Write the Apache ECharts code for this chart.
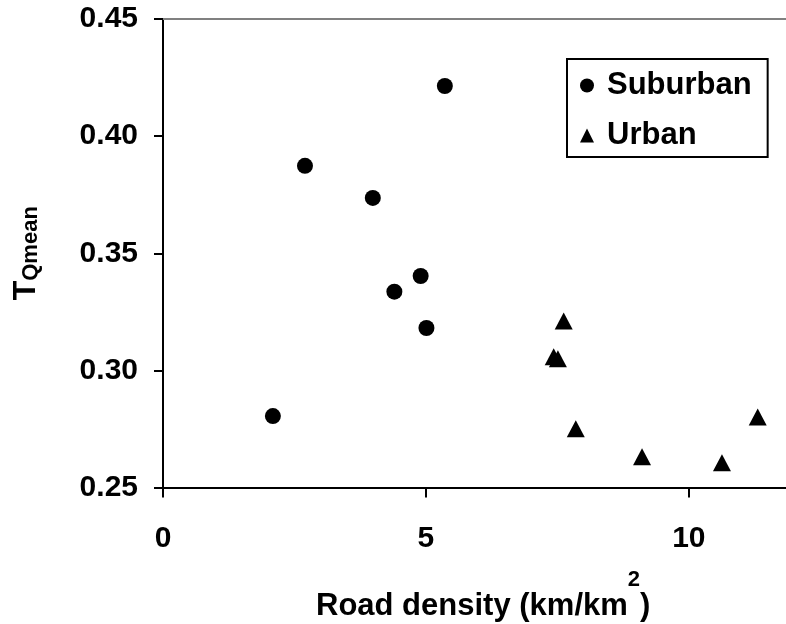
<!DOCTYPE html>
<html>
<head>
<meta charset="utf-8">
<script src="https://cdn.jsdelivr.net/npm/echarts@6/dist/echarts.min.js"></script>
<style>
html,body{margin:0;padding:0;background:#fff;}
#chart{width:786px;height:624px;}
</style>
</head>
<body>
<div id="chart"></div>
<script>
// Data
const suburbanX = [2.09, 2.70, 3.99, 4.40, 4.90, 5.01, 5.36];
const suburbanY = [0.2805, 0.3873, 0.3736, 0.3336, 0.3403, 0.3181, 0.4214];
const urbanX = [7.43, 7.51, 7.62, 7.85, 9.11, 10.63, 11.31];
const urbanY = [0.3058, 0.3050, 0.3211, 0.2751, 0.2631, 0.2606, 0.2801];
const seriesNames = ['Suburban', 'Urban'];
const xTitle = 'Road density (km/km';
const xTitleSup = '2';
const xTitleEnd = ')';
const yTitleMain = 'T';
const yTitleSub = 'Qmean';

const FONT = '"Liberation Sans", Arial, sans-serif';
const mainFont = 'bold 31px ' + FONT;
const supFont = 'bold 22px ' + FONT;

// measure text widths so the superscript sits right after the main text
const ctx = document.createElement('canvas').getContext('2d');
function tw(text, font) { ctx.font = font; return ctx.measureText(text).width; }
const titleLeft = 316;
const w1 = tw(xTitle, mainFont);
const w2 = tw(xTitleSup, supFont);

const pairs = (xs, ys) => xs.map((x, i) => [x, ys[i]]);

const chart = echarts.init(document.getElementById('chart'), null, {renderer: 'canvas'});
chart.setOption({
  backgroundColor: '#fff',
  animation: false,
  textStyle: {fontFamily: FONT},
  grid: {left: 163, right: -8, top: 19, bottom: 136.5, containLabel: false, outerBoundsMode: 'none'},
  legend: {
    left: 567, top: 59, orient: 'vertical',
    data: [{name: seriesNames[0], icon: 'circle'}, {name: seriesNames[1], icon: 'triangle'}],
    itemWidth: 14, itemHeight: 14, itemGap: 19,
    borderColor: '#000', borderWidth: 2, borderRadius: 0,
    padding: [11, 16, 6, 13],
    textStyle: {fontFamily: FONT, fontWeight: 'bold', fontSize: 31, color: '#000', padding: [0, 0, 0, 8]}
  },
  graphic: [
    {type: 'text', x: titleLeft, y: 606, silent: true,
      style: {text: xTitle, font: mainFont, fill: '#000', textAlign: 'left', textVerticalAlign: 'middle'}},
    {type: 'text', x: titleLeft + w1, y: 580, silent: true,
      style: {text: xTitleSup, font: supFont, fill: '#000', textAlign: 'left', textVerticalAlign: 'middle'}},
    {type: 'text', x: titleLeft + w1 + w2, y: 606, silent: true,
      style: {text: xTitleEnd, font: mainFont, fill: '#000', textAlign: 'left', textVerticalAlign: 'middle'}}
  ],
  xAxis: [{
    type: 'value', min: 0, max: 12, interval: 5,
    axisLine: {show: true, onZero: false, lineStyle: {color: '#000', width: 2}},
    axisTick: {show: true, inside: false, length: 10, lineStyle: {color: '#000', width: 2}},
    axisLabel: {margin: 36, fontFamily: FONT, fontWeight: 'bold', fontSize: 30, color: '#000', showMaxLabel: false},
    splitLine: {show: false}
  }, {
    type: 'value', position: 'top', min: 0, max: 12, interval: 5,
    axisLine: {show: true, onZero: false, lineStyle: {color: '#808080', width: 2}},
    axisTick: {show: false}, axisLabel: {show: false}, splitLine: {show: false}
  }],
  yAxis: {
    type: 'value', min: 0.25, max: 0.45, interval: 0.05,
    axisLine: {show: true, onZero: false, lineStyle: {color: '#000', width: 2}},
    axisTick: {show: true, inside: false, length: 9, lineStyle: {color: '#000', width: 2}},
    axisLabel: {margin: 25, fontFamily: FONT, fontWeight: 'bold', fontSize: 30, color: '#000',
      formatter: v => v.toFixed(2)},
    splitLine: {show: false},
    name: '{t|' + yTitleMain + '}{q|' + yTitleSub + '}',
    nameLocation: 'middle', nameGap: 121, nameRotate: 90, nameMoveOverlap: false,
    nameTextStyle: {
      rich: {
        t: {fontFamily: FONT, fontWeight: 'bold', fontSize: 32, lineHeight: 34, color: '#000', verticalAlign: 'bottom'},
        q: {fontFamily: FONT, fontWeight: 'bold', fontSize: 22, lineHeight: 22, color: '#000', verticalAlign: 'bottom'}
      }
    }
  },
  series: [{
    name: seriesNames[0], type: 'scatter', symbol: 'circle', symbolSize: 16,
    itemStyle: {color: '#000', opacity: 1}, data: pairs(suburbanX, suburbanY)
  }, {
    name: seriesNames[1], type: 'scatter', symbol: 'triangle', symbolSize: [18, 17],
    itemStyle: {color: '#000', opacity: 1}, data: pairs(urbanX, urbanY)
  }]
});
</script>
</body>
</html>
